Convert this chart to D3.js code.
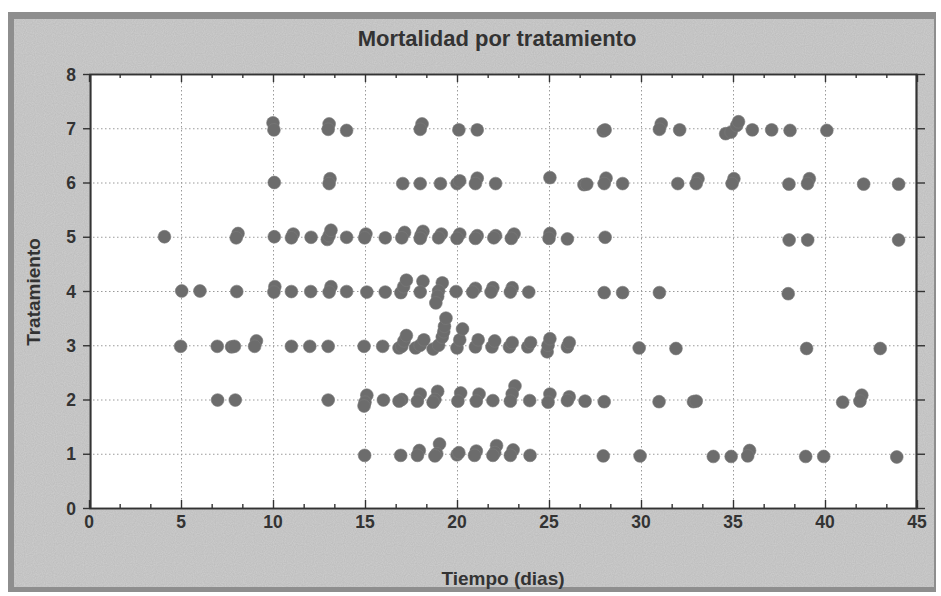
<!DOCTYPE html>
<html>
<head>
<meta charset="utf-8">
<script src="https://cdn.jsdelivr.net/npm/d3@7"></script>
<style>
  body { margin: 0; background: #fff; }
  svg { display: block; font-family: "Liberation Sans", Arial, sans-serif; }
</style>
</head>
<body>
<svg id="chart" width="941" height="596"></svg>
<script>
// puntos: [dia, tratamiento con jitter]
const trat1 = [[14.98,0.97],[16.94,0.97],[17.95,1.06],[17.85,0.97],[19.05,1.18],[18.9,1.0],[18.8,0.96],
  [20.0,0.98],[20.1,1.02],[21.05,1.05],[20.95,0.97],[22.15,1.15],[22.05,1.02],[21.95,0.97],[23.05,1.07],
  [22.9,0.97],[23.97,0.97],[27.95,0.96],[29.95,0.96],[33.93,0.95],[34.9,0.95],[35.9,1.06],[35.8,0.96],
  [38.95,0.95],[39.93,0.95],[43.9,0.94]];
const trat2 = [[6.99,1.99],[7.95,1.99],[13.0,1.99],[15.1,2.08],[15.0,1.95],[14.95,1.88],[16.0,1.99],
  [17.0,2.0],[16.85,1.97],[18.0,2.1],[17.85,1.97],[18.95,2.15],[18.8,2.0],[18.7,1.95],[20.2,2.12],
  [20.05,1.97],[21.2,2.1],[21.05,1.97],[21.95,1.98],[23.15,2.25],[23.0,2.1],[22.9,1.97],[23.95,1.98],
  [25.05,2.1],[24.95,1.95],[26.1,2.05],[26.0,1.98],[26.96,1.97],[28.0,1.96],[30.98,1.96],[32.85,1.96],
  [33.0,1.97],[40.96,1.95],[42.0,2.08],[41.9,1.97]];
const trat3 = [[4.98,2.98],[6.97,2.98],[7.75,2.97],[7.9,2.98],[9.1,3.08],[9.0,2.98],[11.0,2.98],
  [12.0,2.98],[13.0,2.98],[14.95,2.98],[15.96,2.98],[16.85,2.95],[17.0,2.98],[17.12,3.08],[17.25,3.18],
  [17.75,2.95],[18.0,3.0],[18.2,3.1],[18.7,2.93],[19.0,3.0],[19.2,3.15],[19.28,3.25],[19.32,3.35],
  [19.4,3.5],[20.0,2.95],[20.15,3.1],[20.3,3.3],[21.0,2.97],[21.15,3.1],[21.9,2.97],[22.05,3.08],
  [22.85,2.97],[23.0,3.05],[23.85,2.97],[24.0,3.05],[24.9,2.88],[24.95,3.0],[25.05,3.12],[26.0,2.97],
  [26.1,3.05],[29.9,2.95],[31.9,2.94],[39.0,2.94],[43.0,2.94]];
const trat4 = [[5.04,4.0],[6.03,4.0],[8.03,3.99],[10.1,4.08],[10.05,3.98],[11.0,3.99],[12.05,3.99],
  [13.15,4.08],[13.05,3.98],[14.0,3.99],[15.1,3.98],[16.1,3.98],[16.95,3.97],[17.1,4.08],[17.25,4.2],
  [18.15,4.18],[18.0,3.98],[19.2,4.15],[19.0,4.0],[18.95,3.9],[18.85,3.78],[19.95,3.99],[21.0,4.05],
  [20.85,3.98],[21.95,4.06],[21.85,3.98],[23.0,4.06],[22.9,3.98],[23.9,3.98],[28.0,3.97],[29.0,3.97],
  [31.0,3.97],[38.0,3.95]];
const trat5 = [[4.1,5.0],[8.1,5.06],[8.0,4.98],[10.07,5.0],[11.1,5.05],[11.0,4.98],[12.07,4.99],
  [12.95,4.95],[13.05,5.02],[13.15,5.12],[14.0,4.99],[15.05,5.05],[14.98,4.98],[16.1,4.98],[17.15,5.08],
  [17.0,4.98],[18.15,5.1],[18.05,5.03],[18.0,4.97],[19.15,5.05],[19.0,4.98],[20.15,5.05],[20.0,4.97],
  [21.1,5.02],[21.0,4.97],[22.1,5.02],[22.0,4.98],[23.1,5.05],[22.95,4.97],[25.05,5.06],[25.0,4.97],
  [26.0,4.96],[28.05,4.99],[38.05,4.94],[39.06,4.94],[44.0,4.94]];
const trat6 = [[10.07,6.0],[13.1,6.07],[13.05,5.98],[17.05,5.98],[18.0,5.98],[19.1,5.98],[20.0,5.98],
  [20.15,6.03],[21.1,6.08],[21.0,5.98],[22.1,5.98],[25.05,6.09],[26.9,5.96],[27.05,5.97],[28.1,6.08],
  [28.0,5.98],[29.0,5.98],[32.0,5.98],[33.1,6.07],[33.0,5.98],[35.05,6.07],[34.95,5.98],[38.04,5.97],
  [39.15,6.07],[39.05,5.98],[42.1,5.97],[44.0,5.97]];
const trat7 = [[10.0,7.1],[10.05,6.97],[13.05,7.08],[13.0,6.98],[14.0,6.96],[18.1,7.08],[18.0,6.98],
  [20.1,6.97],[21.1,6.97],[27.95,6.95],[28.05,6.97],[31.1,7.08],[31.0,6.98],[32.1,6.97],[34.6,6.9],
  [34.9,6.93],[35.2,7.05],[35.3,7.12],[36.05,6.97],[37.1,6.97],[38.1,6.96],[40.1,6.96]];

const xTicks = [0, 5, 10, 15, 20, 25, 30, 35, 40, 45];
const yTicks = [0, 1, 2, 3, 4, 5, 6, 7, 8];

const svg = d3.select("#chart");
const mLeft = 89, mRight = 917, mTop = 74, mBottom = 508;

const x = d3.scaleLinear().domain([0, 45]).range([mLeft, mRight]);
const y = d3.scaleLinear().domain([0, 8]).range([mBottom, mTop]);

// fondo gris con un poco de ruido, como el escaneo
const defs = svg.append("defs");
const f = defs.append("filter").attr("id", "grain");
f.append("feTurbulence").attr("type", "fractalNoise").attr("baseFrequency", 0.9).attr("numOctaves", 1).attr("result", "n");
f.append("feColorMatrix").attr("in", "n").attr("type", "matrix")
  .attr("values", "0 0 0 0 0  0 0 0 0 0  0 0 0 0 0  0 0 0 0.1 0").attr("result", "a");
f.append("feComposite").attr("in", "a").attr("in2", "SourceGraphic").attr("operator", "in");

svg.append("rect").attr("x", 8).attr("y", 12).attr("width", 928).attr("height", 580).attr("fill", "#8e8e8e");
svg.append("rect").attr("x", 14).attr("y", 19).attr("width", 920).attr("height", 568).attr("fill", "#cfcfcf");
svg.append("rect").attr("x", 14).attr("y", 19).attr("width", 920).attr("height", 568).attr("fill", "#cfcfcf").attr("filter", "url(#grain)");

svg.append("rect").attr("x", mLeft).attr("y", mTop).attr("width", mRight - mLeft).attr("height", mBottom - mTop).attr("fill", "#fff");

// rejilla punteada
const grid = svg.append("g").attr("stroke", "#9a9a9a").attr("stroke-width", 1).attr("stroke-dasharray", "1.5,2.5");
grid.selectAll("line.h").data(yTicks.slice(1, -1)).join("line")
  .attr("x1", mLeft).attr("x2", mRight).attr("y1", d => y(d) + 0.5).attr("y2", d => y(d) + 0.5);
grid.selectAll("line.v").data(xTicks.slice(1, -1)).join("line")
  .attr("y1", mTop).attr("y2", mBottom).attr("x1", d => x(d) + 0.5).attr("x2", d => x(d) + 0.5);

// puntos
const puntos = [].concat(trat1, trat2, trat3, trat4, trat5, trat6, trat7);
svg.append("g").selectAll("circle").data(puntos).join("circle")
  .attr("cx", d => x(d[0])).attr("cy", d => y(d[1])).attr("r", 6.4)
  .attr("fill", "#6c6c6c").attr("stroke", "#7a7a7a").attr("stroke-width", 0.6);

// ejes: marcas mayores cada 5, menores cada 5/3
const minorX = d3.range(0, 45.01, 5 / 3).filter(v => Math.abs(v / 5 - Math.round(v / 5)) > 0.01);
function axisStyle(g) {
  g.select(".domain").attr("stroke", "#333").attr("stroke-width", 1.6);
  g.selectAll(".tick line").attr("stroke", "#333").attr("stroke-width", 1.4);
  g.selectAll("text").remove();
}
svg.append("g").attr("transform", `translate(0,${mBottom})`)
  .call(d3.axisTop(x).tickValues(xTicks).tickSize(8).tickSizeOuter(0)).call(axisStyle);
svg.append("g").attr("transform", `translate(0,${mBottom})`)
  .call(d3.axisTop(x).tickValues(minorX).tickSize(4).tickSizeOuter(0)).call(axisStyle);
svg.append("g").attr("transform", `translate(0,${mTop})`)
  .call(d3.axisBottom(x).tickValues(xTicks).tickSize(8).tickSizeOuter(0)).call(axisStyle);
svg.append("g").attr("transform", `translate(0,${mTop})`)
  .call(d3.axisBottom(x).tickValues(minorX).tickSize(4).tickSizeOuter(0)).call(axisStyle);
svg.append("g").attr("transform", `translate(${mLeft + 1},0)`)
  .call(d3.axisLeft(y).tickValues(yTicks).tickSize(7).tickSizeOuter(0)).call(axisStyle)
  .call(g => g.select(".domain").attr("stroke-width", 2.2));
svg.append("g").attr("transform", `translate(${mRight - 1},0)`)
  .call(d3.axisRight(y).tickValues(yTicks).tickSize(9).tickSizeOuter(0)).call(axisStyle)
  .call(g => g.select(".domain").attr("stroke-width", 2.2));

// etiquetas
const txt = "#333";
svg.append("g").selectAll("text").data(xTicks).join("text")
  .attr("x", d => x(d)).attr("y", 528).attr("text-anchor", "middle")
  .attr("font-size", 17.5).attr("font-weight", "bold").attr("fill", txt).text(d => d);
svg.append("g").selectAll("text").data(yTicks).join("text")
  .attr("x", 76).attr("y", d => y(d) + 6.5).attr("text-anchor", "end")
  .attr("font-size", 17.5).attr("font-weight", "bold").attr("fill", txt).text(d => d);

svg.append("text").attr("x", 497).attr("y", 46).attr("text-anchor", "middle")
  .attr("font-size", 22).attr("font-weight", "bold").attr("fill", txt).text("Mortalidad por tratamiento");
svg.append("text").attr("x", 503).attr("y", 585).attr("text-anchor", "middle")
  .attr("font-size", 19).attr("font-weight", "bold").attr("fill", txt).text("Tiempo (dias)");
svg.append("text").attr("transform", "translate(40,292) rotate(-90)").attr("text-anchor", "middle")
  .attr("font-size", 19).attr("font-weight", "bold").attr("fill", txt).text("Tratamiento");
</script>
</body>
</html>
